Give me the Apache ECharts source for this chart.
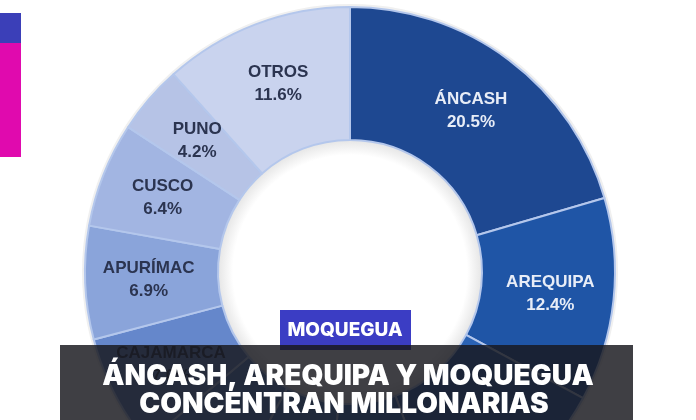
<!DOCTYPE html>
<html>
<head>
<meta charset="utf-8">
<script src="https://cdn.jsdelivr.net/npm/echarts@6/dist/echarts.min.js"></script>
<style>
html,body{margin:0;padding:0;background:#ffffff;}
#chart{width:696px;height:420px;}
</style>
</head>
<body>
<div id="chart"></div>
<script>
// Shares (%) clockwise from the top
const regions = ['ÁNCASH', 'AREQUIPA', 'MOQUEGUA', 'TACNA', 'LA LIBERTAD', 'JUNÍN', 'CAJAMARCA', 'APURÍMAC', 'CUSCO', 'PUNO', 'OTROS'];
const shares  = [20.5, 12.4, 11.5, 7.0, 6.5, 6.0, 7.0, 6.9, 6.4, 4.2, 11.6];
const sliceColors = ['#1e4891', '#1f55a6', '#2a62b4', '#3a6fbd', '#4a7bc3', '#5781c6', '#6587cb', '#8aa4da', '#a2b5e2', '#b6c3e6', '#c9d3ee'];
const labelColors = ['#e8edf7', '#e8edf7', '#e8edf7', '#e8edf7', '#e8edf7', '#e8edf7', '#27304a', '#2b3450', '#2b3450', '#2b3450', '#2b3450'];
const hiddenLabels = ['MOQUEGUA', 'TACNA', 'LA LIBERTAD', 'JUNÍN'];
const titleLines = ['ÁNCASH, AREQUIPA Y MOQUEGUA', 'CONCENTRAN MILLONARIAS'];
const badgeText = 'MOQUEGUA';

const chart = echarts.init(document.getElementById('chart'), null, {renderer: 'canvas'});

const data = regions.map((name, i) => ({
  name: name,
  value: shares[i],
  itemStyle: {color: sliceColors[i]},
  label: {show: hiddenLabels.indexOf(name) < 0, color: labelColors[i]}
}));

const innerShade = new echarts.graphic.RadialGradient(350, 272, 133, [
  {offset: 0.88, color: '#ffffff'},
  {offset: 1, color: '#e4e4e4'}
], true);

chart.setOption({
  animation: false,
  backgroundColor: '#ffffff',
  series: [
    {
      type: 'pie', silent: true, center: [350, 272], radius: [110, 133],
      label: {show: false}, labelLine: {show: false},
      itemStyle: {borderWidth: 0},
      data: [{value: 1, itemStyle: {color: innerShade}}]
    },
    {
      type: 'pie', silent: true, center: [350, 272], radius: [263, 268],
      label: {show: false}, labelLine: {show: false},
      data: [{value: 1, itemStyle: {color: '#f0f0f0'}}]
    },
    {
      type: 'pie',
      center: [350, 272],
      radius: [132, 265],
      startAngle: 90,
      clockwise: true,
      avoidLabelOverlap: false,
      itemStyle: {borderColor: '#b4c7ec', borderWidth: 2},
      label: {
        show: true,
        position: 'inside',
        fontFamily: '"Liberation Sans", Arial, sans-serif',
        fontWeight: 'bold',
        fontSize: 17,
        lineHeight: 23,
        formatter: p => p.name + '\n' + p.value.toFixed(1) + '%'
      },
      labelLine: {show: false},
      data: data
    }
  ],
  graphic: [
    {type: 'rect', shape: {x: 0, y: 13, width: 21, height: 30}, style: {fill: '#3b3fb8'}},
    {type: 'rect', shape: {x: 0, y: 43, width: 21, height: 114}, style: {fill: '#e00aae'}},
    {type: 'rect', z: 100, shape: {x: 280, y: 310, width: 131, height: 40}, style: {fill: '#3b3dc4'}},
    {type: 'text', z: 101, x: 345, y: 330, style: {text: badgeText, fill: '#ffffff', font: '800 19px Inter, sans-serif', textAlign: 'center', textVerticalAlign: 'middle'}},
    {type: 'rect', z: 102, shape: {x: 60, y: 345, width: 573, height: 80}, style: {fill: 'rgba(24,24,30,0.83)'}},
    {type: 'text', z: 103, x: 348, y: 377, style: {text: titleLines[0], fill: '#ffffff', font: '900 28px Inter, sans-serif', textAlign: 'center', textVerticalAlign: 'middle'}},
    {type: 'text', z: 103, x: 344, y: 405, style: {text: titleLines[1], fill: '#ffffff', font: '900 28px Inter, sans-serif', textAlign: 'center', textVerticalAlign: 'middle'}}
  ]
});
</script>
</body>
</html>
